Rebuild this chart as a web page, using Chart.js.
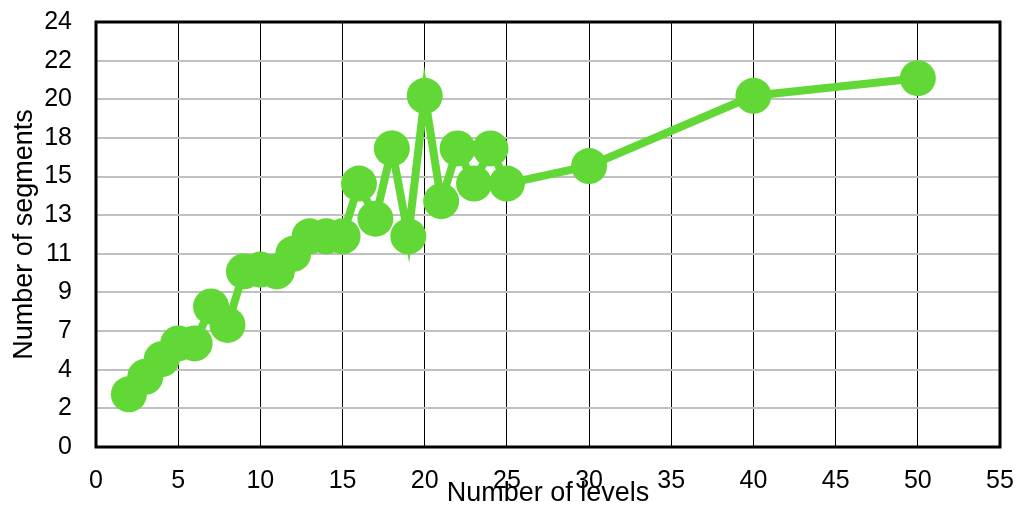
<!DOCTYPE html>
<html>
<head>
<meta charset="utf-8">
<script src="https://cdn.jsdelivr.net/npm/chart.js@4/dist/chart.umd.min.js"></script>
<style>
html,body{margin:0;padding:0;background:#fff;}
#wrap{width:1018px;height:510px;}
</style>
</head>
<body>
<div id="wrap"><canvas id="c" width="1018" height="510"></canvas></div>
<script>
const levels = [2,3,4,5,6,7,8,9,10,11,12,13,14,15,16,17,18,19,20,21,22,23,24,25,30,40,50];
const segments = [3,4,5,5.9,5.9,8,6.95,10,10.1,10,11,12,12,12,15,13,17,12,20,14,17,15,17,15,16,20,21];
const xTicks = [0,5,10,15,20,25,30,35,40,45,50,55];
const yMax = 24.2;
const yTickCount = 11;

const FONT = 'Liberation Sans, Arial, sans-serif';
const GREEN = '#62d836';

const frame = {
  id: 'frame',
  beforeDatasetsDraw(chart) {
    const a = chart.chartArea, ctx = chart.ctx;
    ctx.save();
    ctx.strokeStyle = '#000';
    ctx.lineWidth = 3;
    ctx.strokeRect(a.left, a.top, a.right - a.left, a.bottom - a.top);
    ctx.restore();
  }
};

function noPad(s) { s.paddingTop = 0; s.paddingBottom = 0; s.paddingLeft = 0; s.paddingRight = 0; }

new Chart(document.getElementById('c'), {
  type: 'line',
  data: {
    datasets: [{
      data: levels.map((x, i) => ({x: x, y: segments[i]})),
      borderColor: GREEN,
      backgroundColor: GREEN,
      borderWidth: 8,
      pointRadius: 18,
      pointBorderWidth: 0,
      pointBackgroundColor: GREEN,
      borderJoinStyle: 'miter',
      tension: 0
    }]
  },
  options: {
    responsive: false,
    animation: false,
    layout: {padding: {left: 0, right: 16, top: 22, bottom: 0}},
    plugins: {legend: {display: false}, tooltip: {enabled: false}},
    scales: {
      x: {
        type: 'linear',
        min: 0, max: 55,
        afterBuildTicks: s => { s.ticks = xTicks.map(v => ({value: v})); },
        afterFit: s => { s.height = 63; noPad(s); },
        grid: {color: '#000', lineWidth: 1, drawTicks: false},
        border: {display: false},
        ticks: {font: {family: FONT, size: 25}, color: '#000', padding: 19, maxRotation: 0},
        title: {display: true, text: 'Number of levels', font: {family: FONT, size: 27}, color: '#000', padding: {top: -4, bottom: 0}}
      },
      y: {
        type: 'linear',
        min: 0, max: yMax,
        afterBuildTicks: s => {
          const t = [];
          for (let k = 0; k <= yTickCount; k++) t.push({value: k * yMax / yTickCount});
          s.ticks = t;
        },
        afterFit: s => { s.width = 96; noPad(s); },
        grid: {color: '#c0c0c0', lineWidth: 2, drawTicks: false},
        border: {display: false},
        ticks: {font: {family: FONT, size: 25}, color: '#000', padding: 24,
          callback: v => String(Math.round(v))},
        title: {display: true, text: 'Number of segments', font: {family: FONT, size: 27}, color: '#000', padding: {top: 8, bottom: 0}}
      }
    }
  },
  plugins: [frame]
});
</script>
</body>
</html>
